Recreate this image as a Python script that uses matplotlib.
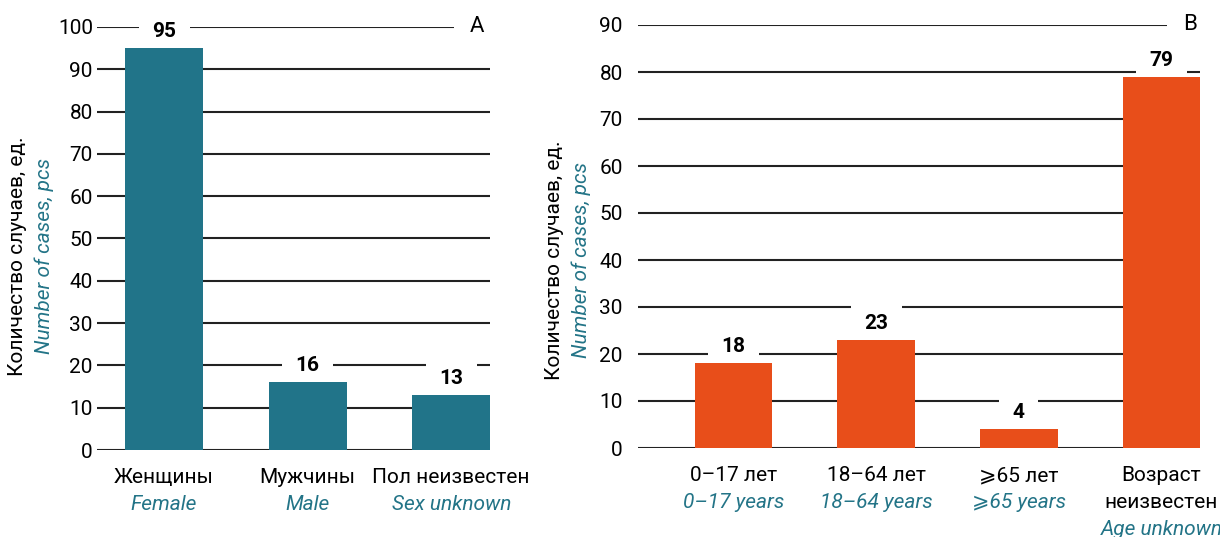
import numpy as np
import matplotlib.pyplot as plt

plt.rcParams['font.family'] = ['Roboto', 'DejaVu Sans']

# панель A - пол
sex_ru = ['Женщины', 'Мужчины', 'Пол неизвестен']
sex_en = ['Female', 'Male', 'Sex unknown']
sex_cases = [95, 16, 13]

# панель B - возраст
age_ru = ['0–17 лет', '18–64 лет', '⩾65 лет', 'Возраст\nнеизвестен']
age_en = ['0–17 years', '18–64 years', '⩾65 years', 'Age unknown']
age_cases = [18, 23, 4, 79]

teal = '#217489'
orange = '#e84e1a'
txt_teal = '#237487'
fs = 15

fig = plt.figure(figsize=(12.2, 5.37), dpi=100)
axA = fig.add_axes([97 / 1220, 87 / 537, 393 / 1220, 423 / 537])
axB = fig.add_axes([638 / 1220, 89 / 537, 562 / 1220, 423 / 537])


def panel(ax, ru, en, vals, color, ymax, letter, letter_x, xlim, pad):
    x = np.arange(len(vals))
    ax.bar(x, vals, width=0.545, color=color, zorder=3)
    ax.set_xlim(*xlim)
    ax.set_ylim(0, ymax)
    ax.set_yticks(np.arange(0, ymax + 1, 10))
    ax.yaxis.grid(True, color='#222222', linewidth=1.5, zorder=1)
    ax.set_axisbelow(True)
    for s in ax.spines.values():
        s.set_visible(False)
    ax.tick_params(axis='y', length=0, pad=pad, labelsize=fs)
    ax.set_xticks([])
    for i, v in enumerate(vals):
        ax.annotate(str(v), (x[i], v), xytext=(0, 12), textcoords='offset points',
                    ha='center', va='center', fontsize=fs, fontweight='bold', zorder=2,
                    bbox=dict(boxstyle='square,pad=0.65', fc='white', ec='none'))
        lines = ru[i].split('\n')
        for j, ln in enumerate(lines):
            ax.annotate(ln, (x[i], 0), xytext=(0, -20 - 19.5 * j), textcoords='offset points',
                        ha='center', va='center', fontsize=fs, annotation_clip=False)
        ax.annotate(en[i], (x[i], 0), xytext=(0, -20 - 19.5 * len(lines)), textcoords='offset points',
                    ha='center', va='center', fontsize=fs, style='italic', color=txt_teal,
                    annotation_clip=False)
    ax.text(letter_x, 1.0, letter, transform=ax.transAxes, ha='center', va='center', fontsize=fs + 1,
            zorder=2, bbox=dict(boxstyle='square,pad=0.7', fc='white', ec='none'))


panel(axA, sex_ru, sex_en, sex_cases, teal, 100, 'A', 0.967, (-0.467, 2.27), 3)
panel(axB, age_ru, age_en, age_cases, orange, 90, 'B', 0.982, (-0.67, 3.27), 11)

for xl, yc in [(18, 256), (555, 260)]:
    fig.text(xl / 1220, 1 - yc / 537, 'Количество случаев, ед.', rotation=90,
             ha='center', va='center', fontsize=fs)
    fig.text((xl + 26) / 1220, 1 - yc / 537, 'Number of cases, pcs', rotation=90,
             ha='center', va='center', fontsize=fs, style='italic', color=txt_teal)

fig.savefig('out.png', dpi=100)
